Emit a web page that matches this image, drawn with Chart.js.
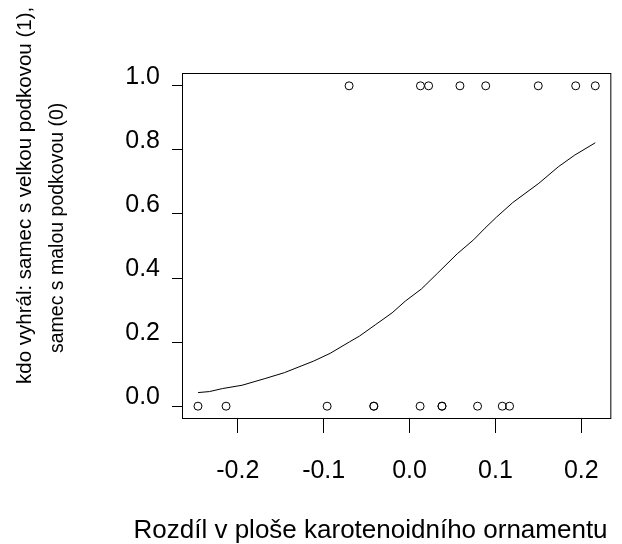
<!DOCTYPE html>
<html>
<head>
<meta charset="utf-8">
<script src="https://cdn.jsdelivr.net/npm/chart.js@4"></script>
<style>
  html, body { margin: 0; padding: 0; background: #fff; }
  canvas { display: block; }
</style>
</head>
<body>
<canvas id="chart" width="622" height="544"></canvas>
<script>
// observations: x where the bigger-horseshoe male won (1) / lost (0)
const xWon = [-0.0704, 0.0127, 0.0222, 0.0587, 0.0887, 0.1499, 0.1935, 0.2163];
const xLost = [-0.2464, -0.2137, -0.0960, -0.0416, -0.0416, 0.0123, 0.0378, 0.0378, 0.0792, 0.1080, 0.1165];

// fitted curve
const curveX = [-0.2463, -0.2330, -0.2179, -0.1951, -0.1685, -0.1457, -0.1115, -0.0925,
  -0.0697, -0.0583, -0.0393, -0.0203, -0.0051, 0.0139, 0.0329, 0.0556, 0.0746,
  0.0879, 0.1012, 0.1202, 0.1506, 0.1734, 0.1924, 0.2163];
const curveY = [0.0425, 0.0456, 0.0550, 0.0653, 0.0861, 0.1047, 0.1410, 0.1649,
  0.2011, 0.2188, 0.2551, 0.2914, 0.3276, 0.3660, 0.4158, 0.4759, 0.5194,
  0.5557, 0.5900, 0.6356, 0.6957, 0.7475, 0.7838, 0.8222];

const xTicks = [-0.2, -0.1, 0.0, 0.1, 0.2];
const yTicks = [0.0, 0.2, 0.4, 0.6, 0.8, 1.0];

const xTitle = 'Rozdíl v ploše karotenoidního ornamentu';
const yTitle = ['kdo vyhrál: samec s velkou podkovou (1),', 'samec s malou podkovou (0)'];

const FONT = '"Liberation Sans", Arial, Helvetica, sans-serif';

// box round the plot + axis titles
const frame = {
  id: 'frame',
  afterDraw(chart) {
    const { ctx, chartArea: a } = chart;
    ctx.save();
    ctx.strokeStyle = '#000';
    ctx.lineWidth = 1;
    ctx.strokeRect(a.left + 0.5, a.top + 0.5, a.right - a.left - 1, a.bottom - a.top - 1);

    ctx.fillStyle = '#000';
    ctx.textAlign = 'left';
    ctx.textBaseline = 'alphabetic';
    ctx.font = '26px ' + FONT;
    ctx.fillText(xTitle, 133.5, 538);

    ctx.save();
    ctx.font = '20.5px ' + FONT;
    ctx.translate(31, 384);
    ctx.rotate(-Math.PI / 2);
    ctx.fillText(yTitle[0], 0, 0);
    ctx.restore();
    ctx.save();
    ctx.font = '19.5px ' + FONT;
    ctx.translate(63, 353);
    ctx.rotate(-Math.PI / 2);
    ctx.fillText(yTitle[1], 0, 0);
    ctx.restore();
    ctx.restore();
  }
};

const toPoints = (xs, y) => xs.map(x => ({ x: x, y: y }));

new Chart(document.getElementById('chart'), {
  type: 'scatter',
  data: {
    datasets: [
      {
        label: 'fit',
        data: curveX.map((x, i) => ({ x: x, y: curveY[i] })),
        showLine: true,
        borderColor: '#000',
        borderWidth: 1,
        pointRadius: 0,
        tension: 0
      },
      {
        label: 'won',
        data: toPoints(xWon, 1),
        pointRadius: 4,
        pointBorderWidth: 1,
        pointBorderColor: '#000',
        pointBackgroundColor: 'rgba(0,0,0,0)'
      },
      {
        label: 'lost',
        data: toPoints(xLost, 0),
        pointRadius: 4,
        pointBorderWidth: 1,
        pointBorderColor: '#000',
        pointBackgroundColor: 'rgba(0,0,0,0)'
      }
    ]
  },
  options: {
    responsive: false,
    animation: false,
    layout: { padding: { top: 73, right: 1, bottom: 0, left: 0 } },
    plugins: {
      legend: { display: false },
      tooltip: { enabled: false }
    },
    scales: {
      x: {
        type: 'linear',
        min: -0.265,
        max: 0.235,
        afterBuildTicks: s => { s.ticks = xTicks.map(v => ({ value: v })); },
        afterFit: s => { s.height = 125; },
        border: { display: false },
        grid: { drawOnChartArea: false, tickLength: 14, tickColor: '#000', lineWidth: 1 },
        ticks: {
          color: '#000',
          font: { family: FONT, size: 25 },
          padding: 23,
          maxRotation: 0,
          callback: v => v.toFixed(1)
        }
      },
      y: {
        type: 'linear',
        min: -0.04,
        max: 1.04,
        afterBuildTicks: s => { s.ticks = yTicks.map(v => ({ value: v })); },
        afterFit: s => { s.width = 182; },
        border: { display: false },
        grid: { drawOnChartArea: false, tickLength: 10, tickColor: '#000', lineWidth: 1 },
        ticks: {
          color: '#000',
          font: { family: FONT, size: 25 },
          padding: 12,
          labelOffset: -9,
          callback: v => v.toFixed(1)
        }
      }
    }
  },
  plugins: [frame]
});
</script>
</body>
</html>
